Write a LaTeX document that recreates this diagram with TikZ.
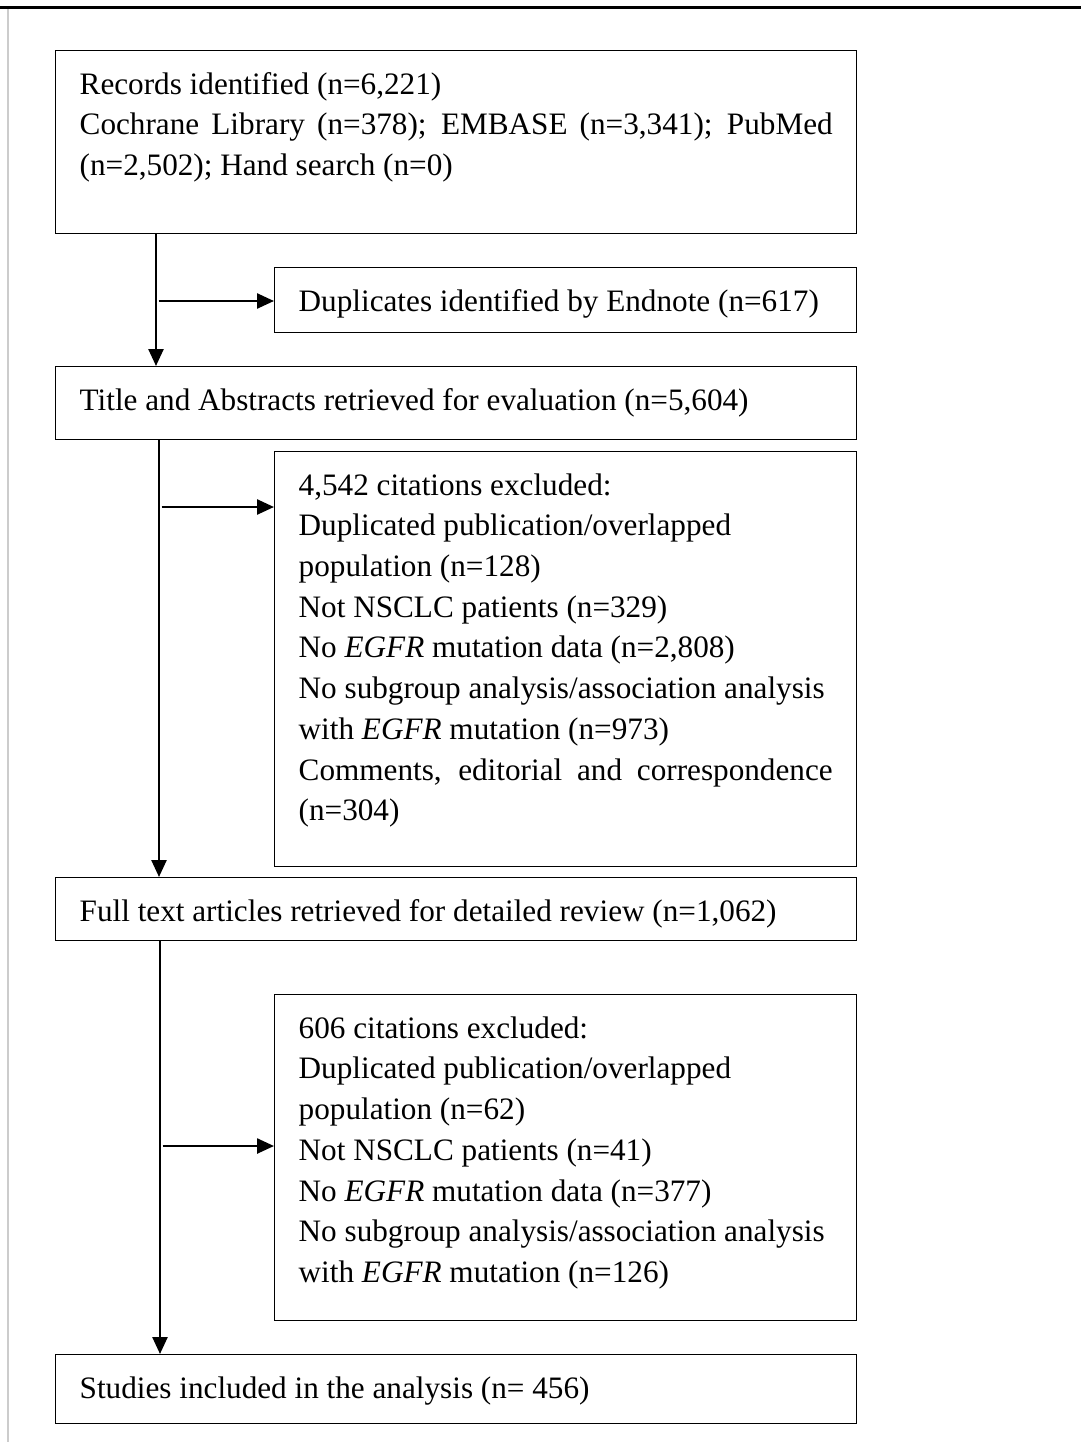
\documentclass[tikz,border=0pt]{standalone}
\usepackage{fontspec}
\setmainfont{Liberation Serif}
\usetikzlibrary{arrows.meta}

\tikzset{
	box/.style={draw, line width=1.4pt, anchor=north west, inner xsep=24pt, inner ysep=15pt},
	flow/.style={line width=2.5pt, -{Triangle[length=17pt,width=15pt]}},
}
% text block of a box: height, width, text
\newcommand{\boxtext}[3]{\parbox[c][#1][t]{#2}{\strut #3}}

\begin{document}
\begin{tikzpicture}[x=1pt, y=-1pt, font=\fontsize{31.2pt}{40.7pt}\selectfont]
			\useasboundingbox (0,0) rectangle (1081,1442);
			\draw[line width=3pt] (0,8) -- (1081,8);		% top rule
			\draw[black!20, line width=1.2pt] (8,9.5) -- (8,1442);	% left rule
			
			% main boxes
			\node[box] (rec) at (55,50) {\boxtext{153pt}{753pt}{Records identified (n=6,221)\\
				Cochrane Library (n=378); EMBASE (n=3,341); PubMed\linebreak
				(n=2,502); Hand search (n=0)}};
			\node[box] (title) at (55,366) {\boxtext{43pt}{753pt}{Title and Abstracts retrieved for evaluation (n=5,604)}};
			\node[box] (full) at (55,877) {\boxtext{33pt}{753pt}{Full text articles retrieved for detailed review (n=1,062)}};
			\node[box] (studies) at (55,1354) {\boxtext{39pt}{753pt}{Studies included in the analysis (n= 456)}};
			
			% exclusion boxes
			\node[box] (dup) at (274,267) {\boxtext{35pt}{534pt}{Duplicates identified by Endnote (n=617)}};
			\node[box] (excl1) at (274,451) {\boxtext{385pt}{534pt}{4,542 citations excluded:\\
				Duplicated publication/overlapped\\
				population (n=128)\\
				Not NSCLC patients (n=329)\\
				No \textit{EGFR} mutation data (n=2,808)\\
				No subgroup analysis/association analysis\\
				with \textit{EGFR} mutation (n=973)\\
				Comments, editorial and correspondence\linebreak
				(n=304)}};
			\node[box] (excl2) at (274,994) {\boxtext{296pt}{534pt}{606 citations excluded:\\
				Duplicated publication/overlapped\\
				population (n=62)\\
				Not NSCLC patients (n=41)\\
				No \textit{EGFR} mutation data (n=377)\\
				No subgroup analysis/association analysis\\
				with \textit{EGFR} mutation (n=126)}};
			
			% vertical flow
			\draw[flow] ([xshift=101pt]rec.south west) -- ([xshift=101pt]title.north west);
			\draw[flow] ([xshift=104pt]title.south west) -- ([xshift=104pt]full.north west);
			\draw[flow] ([xshift=105pt]full.south west) -- ([xshift=105pt]studies.north west);
			
			% branches to the right
			\coordinate (b1) at (158.5,301);
			\coordinate (b2) at (161.5,507);
			\coordinate (b3) at (162.5,1146);
			\draw[flow] (b1) -- (b1 -| dup.west);
			\draw[flow] (b2) -- (b2 -| excl1.west);
			\draw[flow] (b3) -- (b3 -| excl2.west);
			
\end{tikzpicture}
\end{document}
